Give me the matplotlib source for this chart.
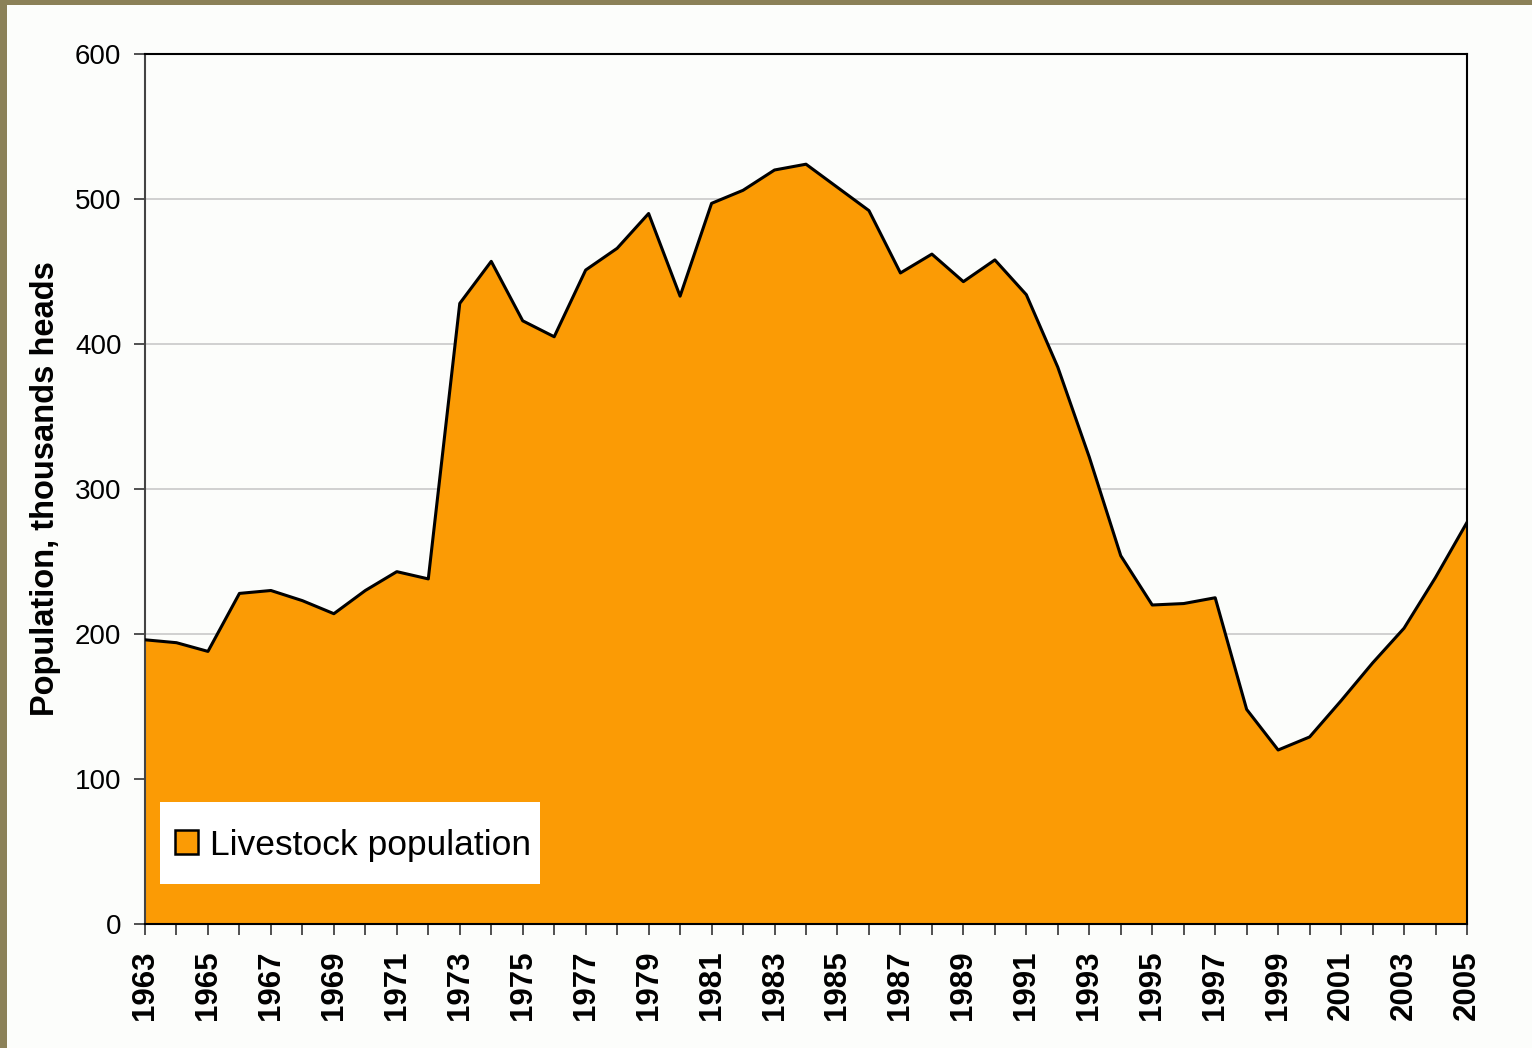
import matplotlib
matplotlib.use("Agg")
import matplotlib.pyplot as plt
from matplotlib.patches import Rectangle, Patch

years = list(range(1963, 2006))
population = [196, 194, 188, 228, 230, 223, 214, 230, 243, 238,
              428, 457, 416, 405, 451, 466, 490, 433, 497, 506,
              520, 524, 508, 492, 449, 462, 443, 458, 434, 384,
              322, 254, 220, 221, 225, 148, 120, 129, 154, 180,
              204, 239, 277]
y_ticks = [0, 100, 200, 300, 400, 500, 600]
x_labels = [str(y) for y in range(1963, 2006, 2)]

plt.rcParams['font.family'] = ['Liberation Sans', 'DejaVu Sans']

W, H = 1532, 1048
fig = plt.figure(figsize=(W / 100, H / 100), dpi=100)
fig.patch.set_facecolor('#FCFDFB')

# Olive frame along top and left edges
fig.patches.append(Rectangle((0, 0), 7 / W, 1, transform=fig.transFigure,
                             facecolor='#8B8158', edgecolor='none', zorder=0))
fig.patches.append(Rectangle((0, 1 - 5 / H), 1, 5 / H, transform=fig.transFigure,
                             facecolor='#8B8158', edgecolor='none', zorder=0))

ax_l, ax_r, ax_t, ax_b = 145, 1467, 54, 924
ax = fig.add_axes([ax_l / W, 1 - ax_b / H, (ax_r - ax_l) / W, (ax_b - ax_t) / H])
ax.set_facecolor('#FCFDFB')

ax.fill_between(years, population, 0, facecolor='#FB9B05', edgecolor='none', zorder=2)
ax.plot(years, population, color='black', lw=2.2, zorder=3)

ax.set_xlim(1963, 2005)
ax.set_ylim(0, 600)
ax.set_yticks(y_ticks)
ax.set_yticklabels([str(v) for v in y_ticks], fontsize=20)
ax.yaxis.grid(True, color='#C9C9C9', lw=1.2, zorder=1)
ax.set_axisbelow(True)

ax.set_xticks(years)
ax.set_xticklabels([str(y) if str(y) in x_labels else '' for y in years],
                   rotation=90, fontsize=22.5, fontweight='bold')
ax.tick_params(axis='x', length=8, width=1.2, color='#333333', pad=11)
ax.tick_params(axis='y', length=8, width=1.2, color='#333333', pad=9)

for side in ['top', 'right', 'bottom']:
    ax.spines[side].set_color('black')
    ax.spines[side].set_linewidth(1.5)
ax.spines['left'].set_color('#444444')
ax.spines['left'].set_linewidth(1.5)

ax.set_ylabel('Population, thousands heads', fontsize=23.5, fontweight='bold', labelpad=10)

# Legend: white box with a single entry
aw, ah = ax_r - ax_l, ax_b - ax_t
ax.add_patch(Rectangle(((160 - ax_l) / aw, (ax_b - 884) / ah), 380 / aw, 82 / ah,
                       transform=ax.transAxes, facecolor='white', edgecolor='none',
                       zorder=4))
handle = Patch(facecolor='#FB9B05', edgecolor='black', linewidth=1.8)
leg = ax.legend([handle], ['Livestock population'], loc='center left',
                bbox_to_anchor=((175 - ax_l) / aw, (ax_b - 845) / ah), fontsize=25.5,
                frameon=False, borderpad=0,
                handlelength=0.65, handleheight=0.65, handletextpad=0.35,
                borderaxespad=0)
leg.set_zorder(5)

fig.savefig('out.png', dpi=100, facecolor=fig.get_facecolor())
